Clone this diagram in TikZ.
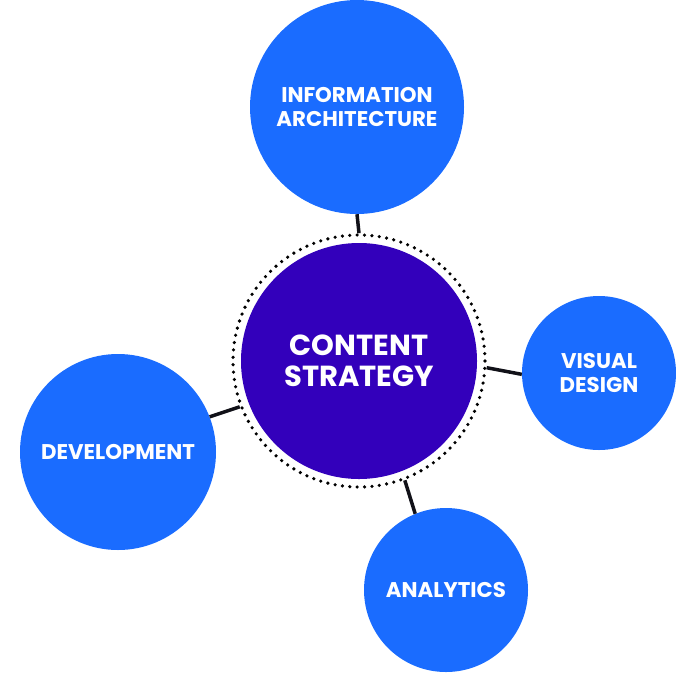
\documentclass[tikz,border=0pt]{standalone}
\usepackage{fontspec}
\setmainfont{Poppins}
\definecolor{bubble}{RGB}{26,108,255}
\definecolor{core}{RGB}{51,0,187}
\definecolor{link}{RGB}{17,17,24}
\begin{document}
\begin{tikzpicture}[x=1pt,y=-1pt,
  bubble/.style={circle,fill=bubble,inner sep=0pt,text=white,align=center,font=\bfseries\fontsize{21.3}{24}\selectfont},
  ring/.style={circle,inner sep=0pt,draw=black,line width=3.6pt,line cap=round,dash pattern=on 0pt off 7.4pt},
  corefill/.style={circle,fill=core,inner sep=0pt,text=white,align=center,font=\bfseries\fontsize{29}{30.5}\selectfont},
  linkline/.style={draw=link,line width=3.5pt}]
\useasboundingbox (0,0) rectangle (676,672);
\node[bubble,minimum size=214pt] (ia) at (357,107) {INFORMATION\\ARCHITECTURE};
\node[bubble,minimum size=154pt] (vd) at (599,373) {VISUAL\\DESIGN};
\node[bubble,minimum size=196pt] (dev) at (118,452) {DEVELOPMENT};
\node[bubble,minimum size=164pt] (an) at (446,590) {ANALYTICS};
\node[ring,minimum size=252pt] (cs) at (359,361) {};
\node[corefill,minimum size=236pt] (csf) at (359,361) {CONTENT\\STRATEGY};
\draw[linkline] (cs.90) -- (ia.-90);
\draw[linkline] (cs.-3) -- (vd.181);
\draw[linkline] (cs.201) -- (dev.21);
\draw[linkline] (cs.-69) -- (an.112);
\end{tikzpicture}
\end{document}
